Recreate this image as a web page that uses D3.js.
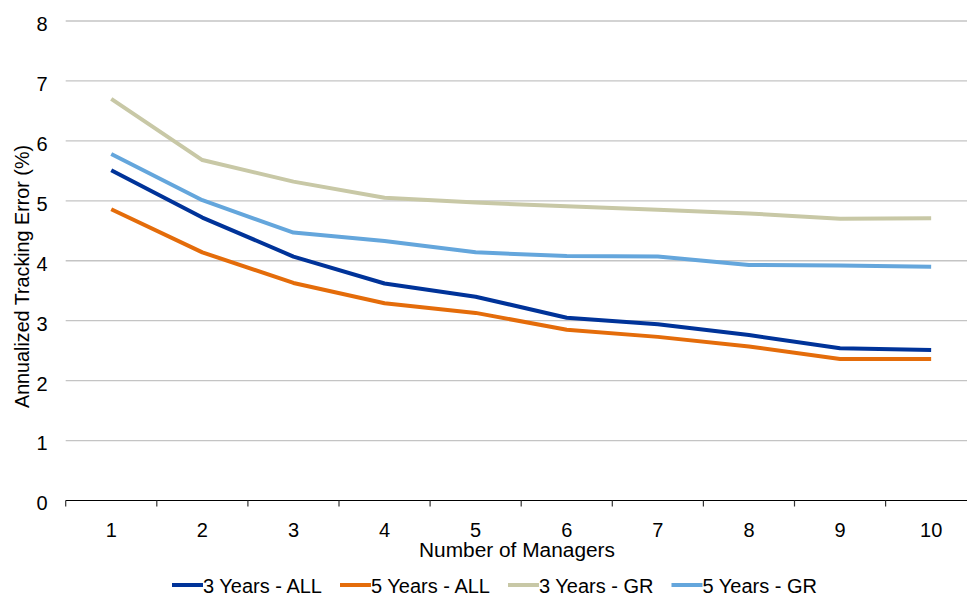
<!DOCTYPE html>
<html>
<head>
<meta charset="utf-8">
<script src="https://cdn.jsdelivr.net/npm/d3@7/dist/d3.min.js"></script>
<style>
  html, body { margin: 0; padding: 0; background: #fff; }
  svg { display: block; font-family: "Liberation Sans", Arial, sans-serif; }
</style>
</head>
<body>
<svg id="chart" width="967" height="597"></svg>
<script>
// Number of managers in the portfolio
const managers = [1, 2, 3, 4, 5, 6, 7, 8, 9, 10];

// Annualized tracking error (%) by series
const threeYearsAll = [5.51, 4.72, 4.07, 3.62, 3.40, 3.05, 2.94, 2.76, 2.54, 2.51];
const fiveYearsAll  = [4.86, 4.14, 3.63, 3.29, 3.13, 2.85, 2.73, 2.57, 2.36, 2.36];
const threeYearsGR  = [6.70, 5.68, 5.32, 5.05, 4.97, 4.91, 4.85, 4.79, 4.70, 4.71];
const fiveYearsGR   = [5.78, 5.01, 4.47, 4.33, 4.14, 4.08, 4.07, 3.93, 3.92, 3.90];

const seriesNames  = ["3 Years - ALL", "5 Years - ALL", "3 Years - GR", "5 Years - GR"];
const seriesValues = [threeYearsAll, fiveYearsAll, threeYearsGR, fiveYearsGR];
const seriesColors = ["#003399", "#E46C0A", "#C8C8A6", "#64A6DC"];

const yTicks = [0, 1, 2, 3, 4, 5, 6, 7, 8];

const svg = d3.select("#chart");

const plotLeft = 65.7, plotRight = 976.7, plotTop = 21, plotBottom = 500.5;

const x = d3.scaleBand().domain(managers).range([plotLeft, plotRight]).paddingInner(0).paddingOuter(0);
const y = d3.scaleLinear().domain([0, 8]).range([plotBottom, plotTop]);

// Horizontal gridlines
svg.append("g")
  .selectAll("line")
  .data(yTicks.filter(d => d > 0))
  .join("line")
  .attr("x1", plotLeft).attr("x2", plotRight)
  .attr("y1", d => y(d)).attr("y2", d => y(d))
  .attr("stroke", "#c4c4c4")
  .attr("stroke-width", 1.3);

// Y axis labels (no axis line)
const yAxis = d3.axisLeft(y).tickValues(yTicks).tickSize(0).tickPadding(18).tickFormat(d3.format("d"));
const gy = svg.append("g").attr("transform", `translate(${plotLeft},0)`).call(yAxis);
gy.select(".domain").remove();
gy.selectAll("text")
  .attr("font-size", 20)
  .attr("font-family", "Liberation Sans, Arial, sans-serif")
  .attr("fill", "#000")
  .attr("dy", "0.47em");

// X axis: baseline, category boundary ticks, centred labels
const gx = svg.append("g");
gx.append("line")
  .attr("x1", plotLeft).attr("x2", plotRight)
  .attr("y1", plotBottom).attr("y2", plotBottom)
  .attr("stroke", "#000").attr("stroke-width", 1.2);
gx.selectAll("line.tick")
  .data(managers)
  .join("line")
  .attr("class", "tick")
  .attr("x1", d => x(d)).attr("x2", d => x(d))
  .attr("y1", plotBottom).attr("y2", plotBottom + 6)
  .attr("stroke", "#333").attr("stroke-width", 1.2);
gx.selectAll("text")
  .data(managers)
  .join("text")
  .attr("x", d => x(d) + x.bandwidth() / 2)
  .attr("y", plotBottom + 36)
  .attr("text-anchor", "middle")
  .attr("font-size", 20)
  .attr("fill", "#000")
  .text(d => d);

// Series lines
const line = d3.line()
  .x((d, i) => x(managers[i]) + x.bandwidth() / 2)
  .y(d => y(d));

svg.append("g")
  .selectAll("path")
  .data(seriesValues)
  .join("path")
  .attr("d", d => line(d))
  .attr("fill", "none")
  .attr("stroke", (d, i) => seriesColors[i])
  .attr("stroke-width", 4)
  .attr("stroke-linejoin", "round");

// Axis titles
svg.append("text")
  .attr("transform", "translate(29,276.5) rotate(-90)")
  .attr("text-anchor", "middle")
  .attr("font-size", 20)
  .attr("fill", "#000")
  .attr("textLength", 263)
  .attr("lengthAdjust", "spacingAndGlyphs")
  .text("Annualized Tracking Error (%)");

svg.append("text")
  .attr("x", 517)
  .attr("y", 557)
  .attr("text-anchor", "middle")
  .attr("font-size", 20)
  .attr("fill", "#000")
  .attr("textLength", 196)
  .attr("lengthAdjust", "spacingAndGlyphs")
  .text("Number of Managers");

// Legend
const legend = svg.append("g");
let lx = 172;
const legendY = 593;
seriesNames.forEach((name, i) => {
  legend.append("line")
    .attr("x1", lx).attr("x2", lx + 31)
    .attr("y1", legendY - 8).attr("y2", legendY - 8)
    .attr("stroke", seriesColors[i])
    .attr("stroke-width", 4);
  const t = legend.append("text")
    .attr("x", lx + 31)
    .attr("y", legendY)
    .attr("font-size", 20)
    .attr("fill", "#000")
    .text(name);
  lx += 31 + t.node().getComputedTextLength() + 18;
});
</script>
</body>
</html>
